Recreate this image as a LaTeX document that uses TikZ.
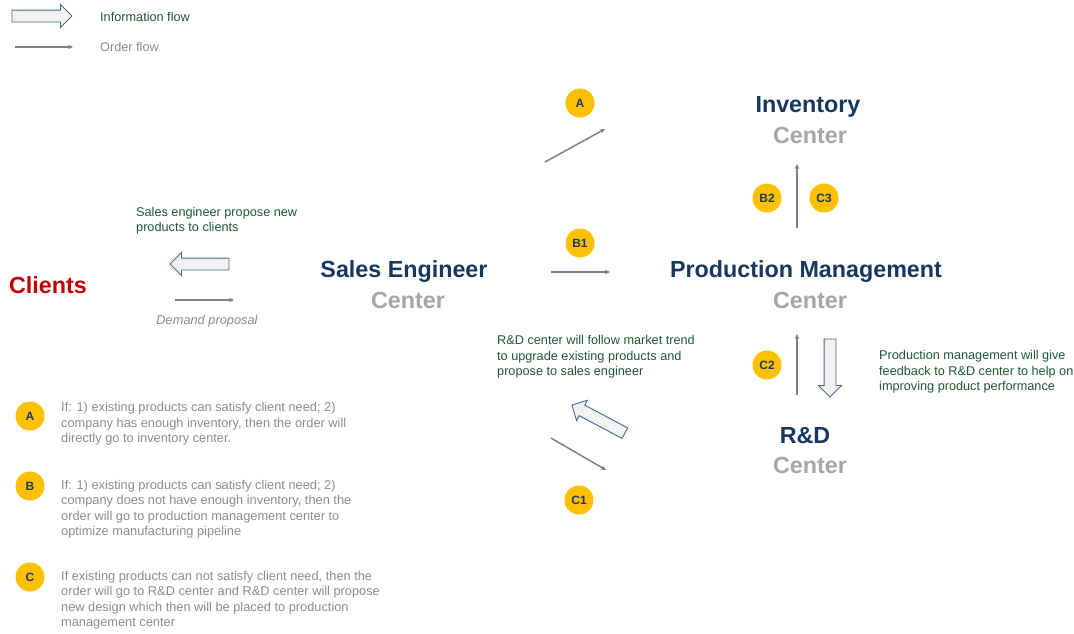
\documentclass[tikz,border=0pt]{standalone}
\usepackage{fontspec}
\setmainfont{Liberation Sans}
\usetikzlibrary{shapes.arrows,arrows.meta}
\definecolor{infogreen}{RGB}{30,90,50}
\definecolor{titlenavy}{RGB}{23,55,94}
\definecolor{centergray}{RGB}{166,166,166}
\definecolor{notegray}{RGB}{140,140,140}
\definecolor{clientred}{RGB}{192,0,0}
\definecolor{badgegold}{RGB}{255,192,0}
\definecolor{badgetext}{RGB}{31,56,100}
\definecolor{flowline}{RGB}{72,104,135}
\definecolor{flowfill}{RGB}{242,242,242}
\definecolor{orderline}{RGB}{128,128,128}
\tikzset{
  infoarrow/.style={single arrow, draw=flowline, fill=flowfill, line width=0.9pt,
    inner xsep=0pt, inner ysep=5.5pt, single arrow head extend=5.5pt,
    minimum height=#1},
  order/.style={draw=orderline, line width=1.5pt, -{Stealth[length=5pt,width=4.5pt]}},
  badge/.style={circle, fill=badgegold, minimum size=29pt, inner sep=0pt,
    font=\fontsize{12}{14}\selectfont\bfseries, text=badgetext},
  title/.style={font=\fontsize{23.3}{27}\selectfont\bfseries, text=titlenavy, inner sep=0pt},
  subtitle/.style={font=\fontsize{23.3}{27}\selectfont\bfseries, text=centergray, inner sep=0pt},
  greennote/.style={font=\fontsize{12.7}{15.3}\selectfont, text=infogreen, align=left, anchor=west, inner sep=0pt},
  graynote/.style={font=\fontsize{12.8}{15.4}\selectfont, text=notegray, align=left, anchor=west, inner sep=0pt},
}
\begin{document}
\begin{tikzpicture}[x=1pt,y=-1pt]
\path[use as bounding box] (0,0) rectangle (1074,633);

% legend
\node[infoarrow=60pt] (legInfo) at (39,16) {};
\coordinate (legOrdS) at (15,47);
\coordinate (legOrdE) at (73,47);
\draw[order, line width=1.1pt] (legOrdS) -- (legOrdE);
\node[font=\fontsize{12.7}{14}\selectfont, text=infogreen, anchor=west, inner sep=0pt] (legInfoTxt) at (100,17) {Information flow};
\node[font=\fontsize{12.7}{14}\selectfont, text=notegray, anchor=west, inner sep=0pt] (legOrdTxt) at (100,47) {Order flow};

% centres
\node[text=clientred, font=\fontsize{23.3}{27}\selectfont\bfseries, inner sep=0pt] (clients) at (48,285) {Clients};
\node[title] (se) at (404,272) {Sales Engineer};
\node[subtitle] (seC) at (408,300) {Center};
\node[title] (pm) at (806,272) {Production Management};
\node[subtitle] (pmC) at (810,300) {Center};
\node[title] (inv) at (808,107) {Inventory};
\node[subtitle] (invC) at (810,135) {Center};
\node[title] (rd) at (805,436) {R\&D};
\node[subtitle] (rdC) at (810,465) {Center};

% clients <-> sales engineer
\node[greennote] (seNote) at (136,221) {Sales engineer propose new\\products to clients};
\node[infoarrow=59pt, shape border rotate=180] (seInfo) at (202.5,264) {};
\coordinate (dpS) at (175,300);
\coordinate (dpE) at (234,300);
\draw[order] (dpS) -- (dpE);
\node[font=\fontsize{12.8}{14}\selectfont\itshape, text=notegray, inner sep=0pt] (dpTxt) at (207,321) {Demand proposal};

% route A
\coordinate (aS) at (545,162);
\coordinate (aE) at (605,129);
\draw[order] (aS) -- (aE);
\node[badge] (bA) at (580,103) {A};

% route B
\coordinate (b1S) at (551,272);
\coordinate (b1E) at (610,272);
\draw[order] (b1S) -- (b1E);
\node[badge] (bB1) at (580,243) {B1};
\coordinate (b2S) at (797,228);
\coordinate (b2E) at (797,164);
\draw[order] (b2S) -- (b2E);
\node[badge] (bB2) at (767,198) {B2};
\node[badge] (bC3) at (824,198) {C3};

% route C
\coordinate (c1S) at (551,438);
\coordinate (c1E) at (606,470);
\draw[order] (c1S) -- (c1E);
\node[badge] (bC1) at (579,500) {C1};
\coordinate (c2S) at (797,395);
\coordinate (c2E) at (797,334);
\draw[order] (c2S) -- (c2E);
\node[badge] (bC2) at (767,365) {C2};

% information flows around R&D
\node[infoarrow=58pt, rotate=-90] (pmInfo) at (830,365) {};
\node[greennote] (pmNote) at (879,372) {Production management will give\\feedback to R\&D center to help on\\improving product performance};
\node[infoarrow=60pt, rotate=152] (rdInfo) at (601,420.5) {};
\node[greennote] (rdNote) at (497,357) {R\&D center will follow market trend\\to upgrade existing products and\\propose to sales engineer};

% notes on routes
\node[badge] (keyA) at (30,416) {A};
\node[graynote] (noteA) at (61,424) {If: 1) existing products can satisfy client need; 2)\\company has enough inventory, then the order will\\directly go to inventory center.};
\node[badge] (keyB) at (30,486) {B};
\node[graynote] (noteB) at (61,509) {If: 1) existing products can satisfy client need; 2)\\company does not have enough inventory, then the\\order will go to production management center to\\optimize manufacturing pipeline};
\node[badge] (keyC) at (30,577) {C};
\node[graynote] (noteC) at (61,600) {If existing products can not satisfy client need, then the\\order will go to R\&D center and R\&D center will propose\\new design which then will be placed to production\\management center};
\end{tikzpicture}
\end{document}
